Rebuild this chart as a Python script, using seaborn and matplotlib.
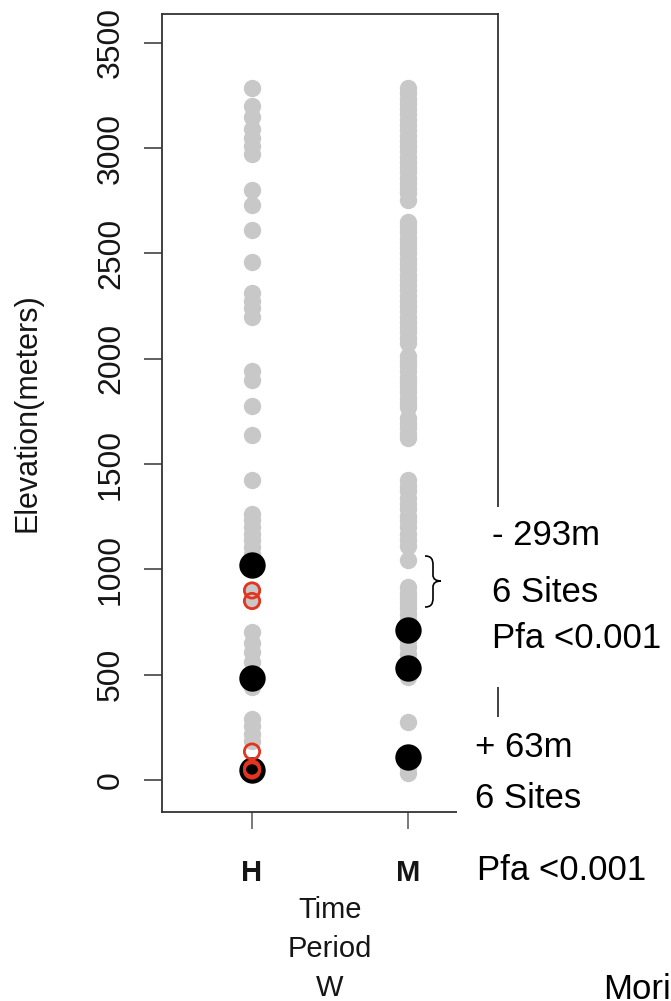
import matplotlib
matplotlib.use("Agg")
import matplotlib.pyplot as plt
import pandas as pd
import seaborn as sns
from matplotlib.patches import Rectangle, PathPatch
from matplotlib.path import Path

# ---------------- data ----------------
periods = ["H", "M"]
y_ticks = [0, 500, 1000, 1500, 2000, 2500, 3000, 3500]

h_gray = [3285, 3200, 3150, 3090, 3050, 3010, 2970, 2800, 2730, 2610, 2460,
          2310, 2275, 2240, 2200, 1940, 1900, 1775, 1640, 1425, 1265, 1235,
          1200, 1170, 1140, 1105, 1075, 900, 850, 705, 650, 610, 560, 440,
          290, 255, 220, 185, 60, 30]
m_gray = [3285, 3260, 3235, 3210, 3185, 3160, 3135, 3110, 3085, 3060, 3035,
          3010, 2985, 2960, 2935, 2910, 2885, 2860, 2835, 2810, 2785, 2755,
          2650, 2625, 2600, 2575, 2550, 2525, 2500, 2475, 2450, 2425, 2400,
          2375, 2350, 2325, 2300, 2275, 2250, 2225, 2200, 2175, 2150, 2125,
          2100, 2075, 2015, 1990, 1965, 1940, 1915, 1890, 1865, 1840, 1815,
          1790, 1770, 1720, 1695, 1670, 1645, 1625, 1425, 1395, 1370, 1340,
          1310, 1285, 1255, 1230, 1200, 1170, 1140, 1110, 1045, 915, 890,
          865, 840, 815, 790, 760, 730, 690, 660, 630, 600, 570, 545, 510,
          490, 275, 60, 35]
h_black = [1021, 484, 47]
m_black = [712, 532, 109]
h_red = [900, 850, 135, 55, 45]

annotations_top = ["- 293m", "6 Sites", "Pfa <0.001"]
annotations_bottom = ["+ 63m", "6 Sites", "Pfa <0.001"]

gray_df = pd.DataFrame({"period": ["H"] * len(h_gray) + ["M"] * len(m_gray),
                        "elevation": h_gray + m_gray})
black_df = pd.DataFrame({"period": ["H"] * len(h_black) + ["M"] * len(m_black),
                         "elevation": h_black + m_black})
red_df = pd.DataFrame({"period": ["H"] * len(h_red), "elevation": h_red})

# ---------------- style ----------------
sns.set_theme(style="ticks")
plt.rcParams["font.family"] = ["Liberation Sans", "DejaVu Sans"]

W, H = 671, 1001
fig = plt.figure(figsize=(W / 100, H / 100), dpi=100)
fig.patch.set_facecolor("white")
ax = fig.add_axes([162 / W, 1 - 812 / H, (498 - 162) / W, (812 - 14) / H])
ax.set_facecolor("white")

sns.stripplot(data=gray_df, x="period", y="elevation", order=periods,
              jitter=False, color="#C8C8C8", size=12.5, linewidth=0, ax=ax,
              zorder=2)
sns.stripplot(data=black_df, x="period", y="elevation", order=periods,
              jitter=False, color="black", size=19, linewidth=0, ax=ax,
              zorder=3)
n_before = len(ax.collections)
sns.stripplot(data=red_df, x="period", y="elevation", order=periods,
              jitter=False, color="#E2341F", size=11, linewidth=2, ax=ax,
              zorder=4)
for coll in ax.collections[n_before:]:
    coll.set_facecolor("none")
    coll.set_edgecolor("#E2341F")
    coll.set_linewidth(2)

ax.set_xlim(-0.577, 1.577)
ax.set_ylim(-152, 3637)
ax.set_yticks(y_ticks)
ax.set_yticklabels([str(v) for v in y_ticks])

txt_col = "#151515"
for s in ax.spines.values():
    s.set_visible(True)
    s.set_color("#333333")
    s.set_linewidth(1.3)

ax.tick_params(axis="y", length=13, width=1.1, color="#333333", pad=13,
               labelsize=23, labelcolor=txt_col)
ax.tick_params(axis="x", length=12, width=1.1, color="#555555", pad=22,
               labelsize=21, labelcolor=txt_col)
for lab in ax.get_yticklabels():
    lab.set_rotation(90)
    lab.set_va("center")
for lab in ax.get_xticklabels():
    lab.set_fontweight("bold")

ax.set_ylabel("Elevation(meters)", fontsize=22, color=txt_col)
ax.yaxis.set_label_coords(-0.357, 0.5)
ax.set_xlabel("Time\nPeriod\nW", fontsize=21, color=txt_col,
              linespacing=1.5, labelpad=6)

def fx(x):
    return x / W

def fy(y):
    return 1 - y / H

# white boxes of the overlaid text panels
fig.add_artist(Rectangle((fx(485), fy(687)), fx(671) - fx(485), fy(507) - fy(687),
                         transform=fig.transFigure, facecolor="white",
                         edgecolor="none", zorder=5))
fig.add_artist(Rectangle((fx(457), fy(1001)), fx(671) - fx(457), fy(717) - fy(1001),
                         transform=fig.transFigure, facecolor="white",
                         edgecolor="none", zorder=5))

# annotations
for t, yb in zip(annotations_top, [545, 602, 648]):
    fig.text(fx(492), fy(yb), t, fontsize=25, color="black", ha="left",
             va="baseline", zorder=6)
for t, (xl, yb) in zip(annotations_bottom, [(475, 757), (475, 808), (477, 880)]):
    fig.text(fx(xl), fy(yb), t, fontsize=25, color="black", ha="left",
             va="baseline", zorder=6)
fig.text(fx(603), fy(999), "Mori", fontsize=25, color="black", ha="left",
         va="baseline", zorder=6)

# curly brace
verts_px = [(425, 556), (431, 556), (433, 559), (433, 565), (433, 575),
            (433, 579), (436, 581), (441, 581), (436, 581), (433, 583),
            (433, 587), (433, 598), (433, 604), (431, 607), (425, 607)]
codes = [Path.MOVETO, Path.CURVE4, Path.CURVE4, Path.CURVE4, Path.LINETO,
         Path.CURVE4, Path.CURVE4, Path.CURVE4, Path.CURVE4, Path.CURVE4,
         Path.CURVE4, Path.LINETO, Path.CURVE4, Path.CURVE4, Path.CURVE4]
brace = Path([(fx(x), fy(y)) for x, y in verts_px], codes)
fig.add_artist(PathPatch(brace, transform=fig.transFigure, facecolor="none",
                         edgecolor="black", linewidth=1.2, zorder=6))

fig.savefig("out.png", dpi=100, facecolor="white")
